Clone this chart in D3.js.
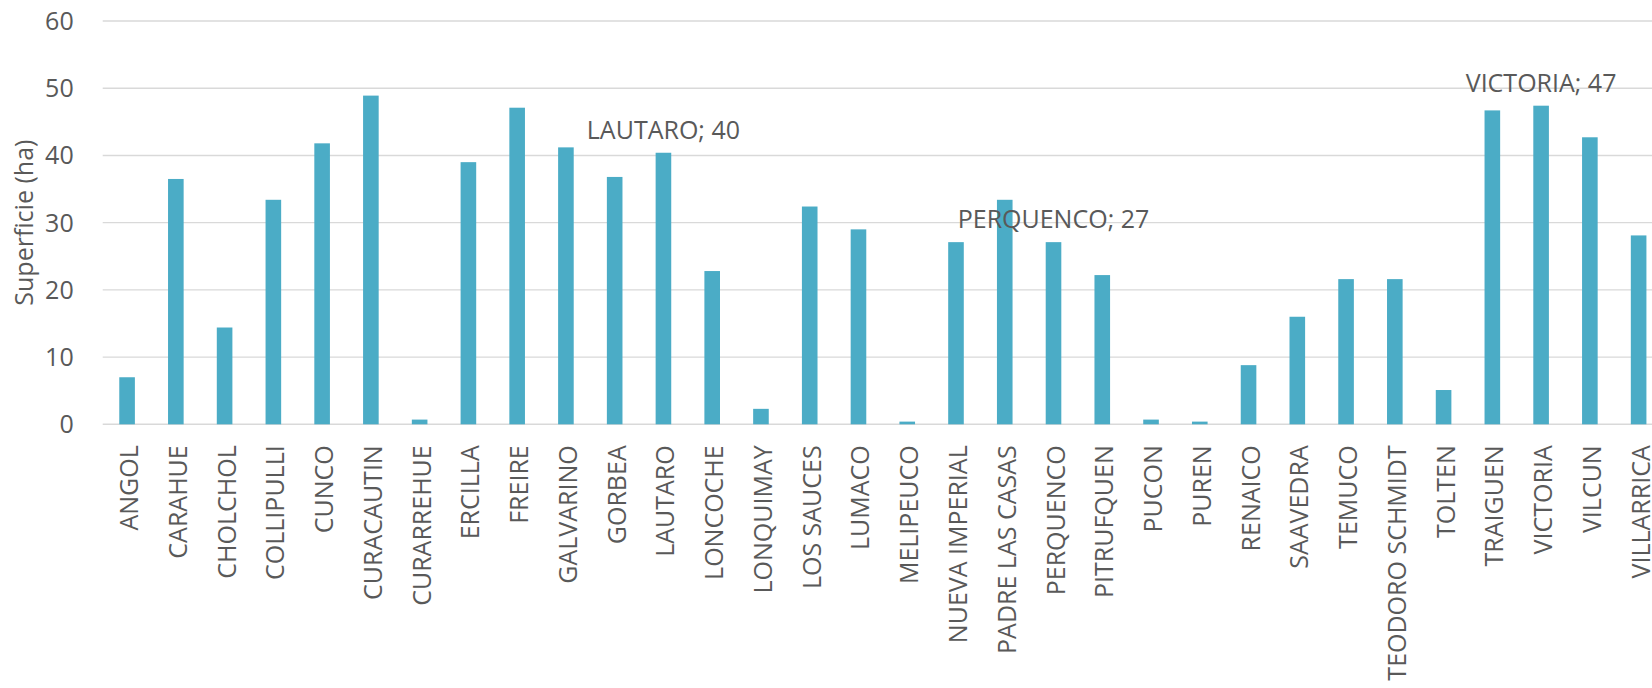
<!DOCTYPE html>
<html>
<head>
<meta charset="utf-8">
<script src="https://cdn.jsdelivr.net/npm/d3@7"></script>
<style>
  body { margin: 0; background: #fff; }
  svg text { font-family: "Open Sans", sans-serif; fill: #595959; }
</style>
</head>
<body>
<svg width="1652" height="688"></svg>
<script>
// communes and surface (ha)
var comunas = ["ANGOL", "CARAHUE", "CHOLCHOL", "COLLIPULLI", "CUNCO", "CURACAUTIN",
  "CURARREHUE", "ERCILLA", "FREIRE", "GALVARINO", "GORBEA", "LAUTARO", "LONCOCHE",
  "LONQUIMAY", "LOS SAUCES", "LUMACO", "MELIPEUCO", "NUEVA IMPERIAL", "PADRE LAS CASAS",
  "PERQUENCO", "PITRUFQUEN", "PUCON", "PUREN", "RENAICO", "SAAVEDRA", "TEMUCO",
  "TEODORO SCHMIDT", "TOLTEN", "TRAIGUEN", "VICTORIA", "VILCUN", "VILLARRICA"];
var superficie = [7, 36.5, 14.4, 33.4, 41.8, 48.9,
  0.7, 39, 47.1, 41.2, 36.8, 40.4, 22.8,
  2.3, 32.4, 29, 0.4, 27.1, 33.4,
  27.1, 22.2, 0.7, 0.4, 8.8, 16, 21.6,
  21.6, 5.1, 46.7, 47.4, 42.7, 28.1];
var yTicks = [0, 10, 20, 30, 40, 50, 60];
// labelled points
var etiquetas = ["LAUTARO", "PERQUENCO", "VICTORIA"];

var data = comunas.map(function(c, i) { return {name: c, value: superficie[i]}; });

var svg = d3.select("svg"),
    margin = {top: 21, left: 102.7},
    plotH = 403.3,
    plotW = 1560.3;

var g = svg.append("g").attr("transform", "translate(" + margin.left + "," + margin.top + ")");

var x = d3.scaleBand()
    .domain(comunas)
    .range([0, plotW])
    .paddingInner(0.68)
    .paddingOuter(0.34);
var y = d3.scaleLinear().domain([0, 60]).range([plotH, 0]);

// gridlines
g.append("g")
    .selectAll("line")
    .data(yTicks)
    .enter().append("line")
    .attr("x1", 0)
    .attr("x2", plotW)
    .attr("y1", function(d) { return y(d); })
    .attr("y2", function(d) { return y(d); })
    .attr("stroke", "#d9d9d9")
    .attr("stroke-width", 1.4);

// y tick labels
g.append("g")
    .selectAll("text")
    .data(yTicks)
    .enter().append("text")
    .attr("x", -29)
    .attr("y", function(d) { return y(d); })
    .attr("dy", "0.36em")
    .attr("text-anchor", "end")
    .style("font-size", "25px")
    .text(function(d) { return d; });

// y title
svg.append("text")
    .attr("transform", "translate(33," + (margin.top + plotH / 2) + ") rotate(-90)")
    .attr("text-anchor", "middle")
    .style("font-size", "25px")
    .text("Superficie (ha)");

// bars
g.append("g")
    .selectAll("rect")
    .data(data)
    .enter().append("rect")
    .attr("x", function(d) { return x(d.name); })
    .attr("width", x.bandwidth())
    .attr("y", function(d) { return y(d.value); })
    .attr("height", function(d) { return plotH - y(d.value); })
    .attr("fill", "#4bacc6");

// category labels
g.append("g")
    .selectAll("text")
    .data(comunas)
    .enter().append("text")
    .attr("transform", function(d) {
      return "translate(" + (x(d) + x.bandwidth() / 2 + 11) + "," + (plotH + 21) + ") rotate(-90)";
    })
    .attr("text-anchor", "end")
    .style("font-size", "25px")
    .text(function(d) { return d; });

// data labels
g.append("g")
    .selectAll("text")
    .data(data.filter(function(d) { return etiquetas.indexOf(d.name) >= 0; }))
    .enter().append("text")
    .attr("x", function(d) { return x(d.name) + x.bandwidth() / 2; })
    .attr("y", function(d) { return y(d.value) - 14; })
    .attr("text-anchor", "middle")
    .style("font-size", "25px")
    .text(function(d) { return d.name + "; " + Math.round(d.value); });
</script>
</body>
</html>
